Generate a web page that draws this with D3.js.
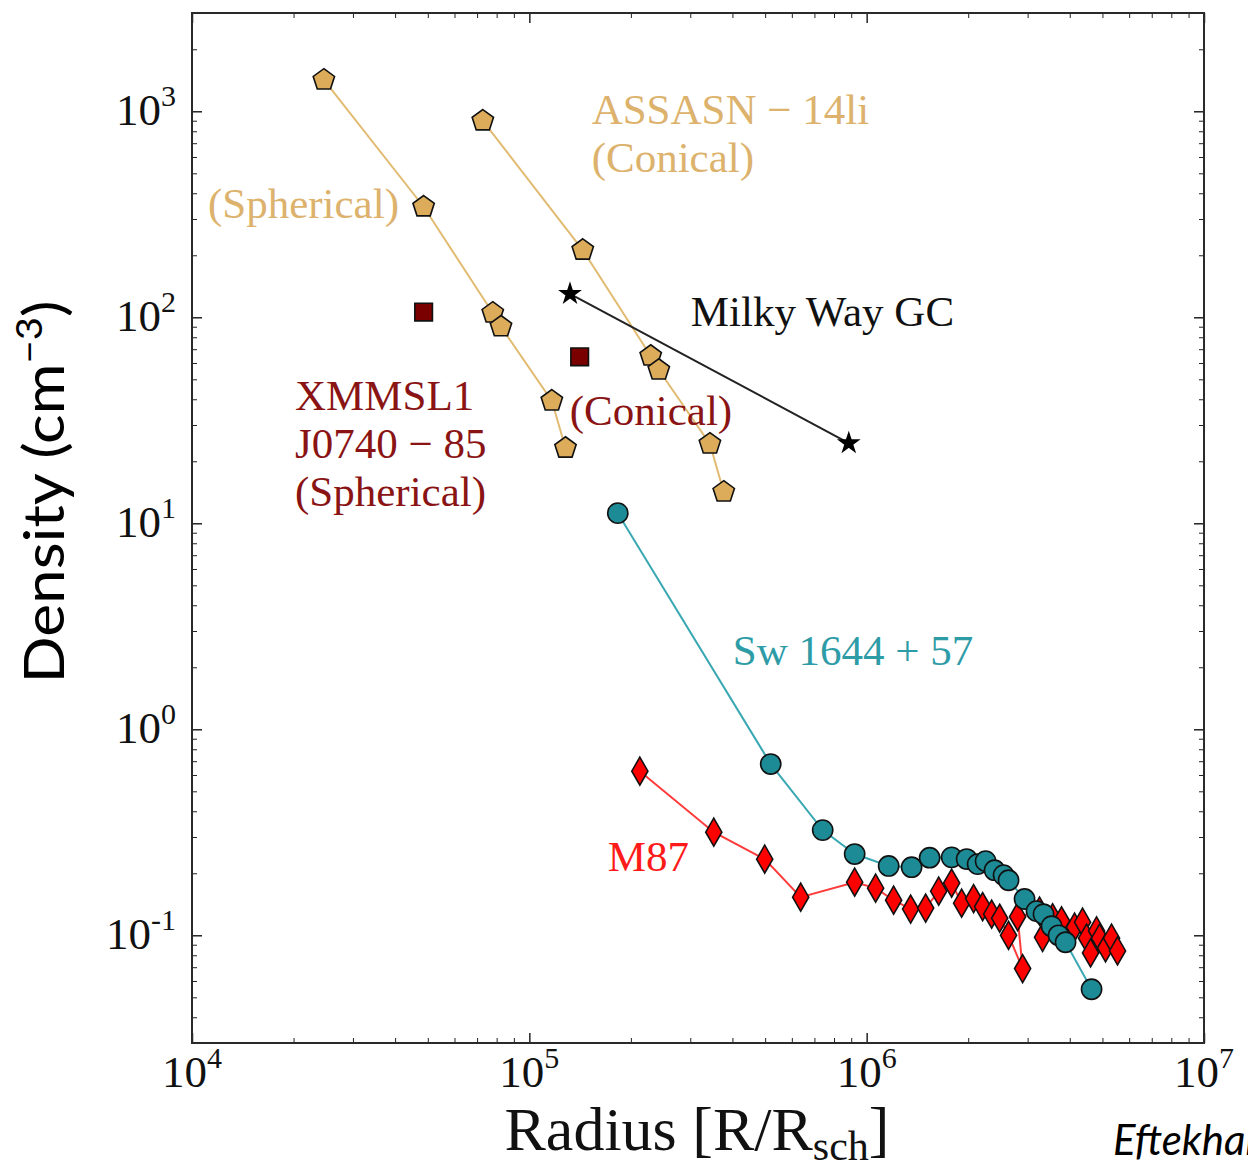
<!DOCTYPE html>
<html>
<head>
<meta charset="utf-8">
<script src="https://cdn.jsdelivr.net/npm/d3@7"></script>
<style>
  html, body { margin: 0; padding: 0; background: #fff; }
  svg { display: block; }
</style>
</head>
<body>
<svg id="chart" width="1248" height="1168"></svg>
<script>
// ---- data: radius in Schwarzschild radii, density in cm^-3 ----
const assasnSphR   = [24600, 48600, 77900, 82400, 116600, 128000];
const assasnSphN   = [1420, 344, 105, 90, 39.3, 23.2];

const assasnConR   = [72800, 144000, 229000, 242000, 343000, 377000];
const assasnConN   = [899, 212, 64.9, 55.5, 24.3, 14.2];

const xmmR         = [48600, 141000];
const xmmN         = [106, 64.3];

const milkyWayR    = [132000, 885000];
const milkyWayN    = [130, 24.5];

const swR = [182900, 519500, 740700, 921300, 1162000, 1359000, 1537000, 1786000,
             1979000, 2133000, 2252000, 2394000, 2546000, 2634000, 2938000, 3188000,
             3344000, 3533000, 3706000, 3887000, 4642000];
const swN = [11.2, 0.678, 0.324, 0.248, 0.217, 0.214, 0.238, 0.239,
             0.2345, 0.2215, 0.229, 0.207, 0.196, 0.185, 0.150, 0.131,
             0.1266, 0.1107, 0.100, 0.0925, 0.0547];

const m87R = [212600, 352200, 498600, 637400, 921300, 1063000, 1202000, 1350000,
              1496000, 1635000, 1786000, 1912000, 2075000, 2207000, 2347000, 2479000,
              2634000, 2899000, 2802000, 3255000, 3322000, 3557000, 3782000, 4133000,
              4365000, 4486000, 4610000, 4803000, 4902000, 5107000, 5320000, 5541000];
const m87N = [0.626, 0.3167, 0.2342, 0.1531, 0.181, 0.1694, 0.148, 0.134,
              0.1355, 0.1637, 0.1793, 0.1432, 0.1508, 0.1378, 0.1266, 0.121,
              0.100, 0.0689, 0.1231, 0.131, 0.0977, 0.1217, 0.1175, 0.1095,
              0.1158, 0.0968, 0.0821, 0.105, 0.0968, 0.0869, 0.0968, 0.084];

// axis ranges and labelled decades
const xDomain = [1e4, 1e7];
const yDomain = [0.03, 3000];
const xDecades = [4, 5, 6, 7];
const yDecades = [-1, 0, 1, 2, 3];

// text annotations, anchored in data coordinates (left edge, first baseline)
const annotLines = [
  ["ASSASN \u2212 14li", "(Conical)"],
  ["(Spherical)"],
  ["Milky Way GC"],
  ["XMMSL1", "J0740 \u2212 85", "(Spherical)"],
  ["(Conical)"],
  ["Sw 1644 + 57"],
  ["M87"]
];
const annotR = [153000, 11150, 301000, 20200, 131800, 401000, 170900];
const annotN = [870, 304, 90.8, 35.5, 30.0, 2.05, 0.2048];
const annotColor = ["#dcb26c", "#dcb26c", "#111111", "#8a1414", "#8a1414", "#2e9ca7", "#ff1a1a"];

// ---- layout ----
const svg = d3.select("#chart");
const L = 192, R = 1204, T = 13, B = 1043;

const x = d3.scaleLog().domain(xDomain).range([L, R]);
const y = d3.scaleLog().domain(yDomain).range([B, T]);

const serif = "'Liberation Serif', 'DejaVu Serif', serif";
const sans = "Lato, 'Open Sans', sans-serif";

// ---- ticks on all four sides, pointing inward ----
const isPow10 = v => Math.abs(Math.log10(v) - Math.round(Math.log10(v))) < 1e-9;
const xMinor = x.ticks().filter(v => !isPow10(v));
const yMinor = y.ticks().filter(v => !isPow10(v));
const xMajor = xDecades.map(d => Math.pow(10, d));
const yMajor = yDecades.map(d => Math.pow(10, d));

function tickGroup(axisFn, scale, values, size, transform, width) {
  const g = svg.append("g").attr("transform", transform)
    .call(axisFn(scale).tickValues(values).tickSize(-size).tickFormat(""));
  g.select(".domain").remove();
  g.selectAll(".tick line").attr("stroke", "#222").attr("stroke-width", width);
  return g;
}
tickGroup(d3.axisBottom, x, xMajor, 10, `translate(0,${B})`, 1.5);
tickGroup(d3.axisBottom, x, xMinor, 5, `translate(0,${B})`, 1);
tickGroup(d3.axisTop, x, xMajor, 10, `translate(0,${T})`, 1.5);
tickGroup(d3.axisTop, x, xMinor, 5, `translate(0,${T})`, 1);
tickGroup(d3.axisLeft, y, yMajor, 10, `translate(${L},0)`, 1.5);
tickGroup(d3.axisLeft, y, yMinor, 5, `translate(${L},0)`, 1);
tickGroup(d3.axisRight, y, yMajor, 10, `translate(${R},0)`, 1.5);
tickGroup(d3.axisRight, y, yMinor, 5, `translate(${R},0)`, 1);

// frame
svg.append("rect")
  .attr("x", L).attr("y", T).attr("width", R - L).attr("height", B - T)
  .attr("fill", "none").attr("stroke", "#2a2a2a").attr("stroke-width", 2);

// ---- tick labels 10^n ----
function powLabel(sel, exp) {
  sel.append("tspan").text("10");
  sel.append("tspan").attr("font-size", 30).attr("dy", -19).text(String(exp));
}
xDecades.forEach(d => {
  const t = svg.append("text")
    .attr("x", x(Math.pow(10, d))).attr("y", 1087)
    .attr("text-anchor", "middle")
    .attr("font-family", serif).attr("font-size", 45).attr("fill", "#111");
  powLabel(t, d);
});
yDecades.forEach(d => {
  const t = svg.append("text")
    .attr("x", 176).attr("y", y(Math.pow(10, d)) + 14)
    .attr("text-anchor", "end")
    .attr("font-family", serif).attr("font-size", 45).attr("fill", "#111");
  powLabel(t, d === -1 ? "-1" : d);
});

// ---- axis titles ----
const xt = svg.append("text")
  .attr("x", 697).attr("y", 1150)
  .attr("text-anchor", "middle")
  .attr("font-family", serif).attr("font-size", 62).attr("fill", "#111");
xt.append("tspan").text("Radius [R/R");
xt.append("tspan").attr("font-size", 42).attr("dy", 10).text("sch");
xt.append("tspan").attr("dy", -10).text("]");

const yt = svg.append("text")
  .attr("transform", "translate(64,492) rotate(-90)")
  .attr("text-anchor", "middle")
  .attr("font-family", sans).attr("font-size", 56).attr("fill", "#000")
  .attr("textLength", 383).attr("lengthAdjust", "spacingAndGlyphs");
yt.append("tspan").text("Density (cm");
yt.append("tspan").attr("font-size", 36).attr("dy", -22).text("\u22123");
yt.append("tspan").attr("dy", 22).text(")");

svg.append("text")
  .attr("x", 1113).attr("y", 1155)
  .attr("font-family", sans).attr("font-style", "italic")
  .attr("font-size", 42).attr("fill", "#000")
  .text("Eftekhari et al. 2018");

// ---- series ----
const pentagon = {
  draw(ctx, size) {
    const r = Math.sqrt(size / 2.3776);
    for (let i = 0; i < 5; i++) {
      const a = -Math.PI / 2 + i * 2 * Math.PI / 5;
      const px = r * Math.cos(a), py = r * Math.sin(a);
      if (i === 0) ctx.moveTo(px, py); else ctx.lineTo(px, py);
    }
    ctx.closePath();
  }
};

const line = d3.line().x(d => x(d[0])).y(d => y(d[1]));

function series(rs, ns, opts) {
  const pts = rs.map((r, i) => [r, ns[i]]);
  const g = svg.append("g");
  if (opts.line) {
    g.append("path").attr("d", line(pts))
      .attr("fill", "none").attr("stroke", opts.line).attr("stroke-width", 2);
  }
  g.selectAll("path.mk").data(pts).join("path")
    .attr("class", "mk")
    .attr("transform", d => `translate(${x(d[0])},${y(d[1])})`)
    .attr("d", d3.symbol().type(opts.shape).size(opts.size))
    .attr("fill", opts.fill)
    .attr("stroke", opts.stroke || "#111")
    .attr("stroke-width", 1.6)
    .attr("stroke-linejoin", "miter");
}

series(assasnSphR, assasnSphN, { shape: pentagon, size: 300, fill: "#dcac5a", line: "#e2bb72" });
series(assasnConR, assasnConN, { shape: pentagon, size: 300, fill: "#dcac5a", line: "#e2bb72" });
series(xmmR, xmmN, { shape: d3.symbolSquare, size: 310, fill: "#7a0000" });
series(milkyWayR, milkyWayN, { shape: d3.symbolStar, size: 110, fill: "#000", stroke: "#000", line: "#222" });
series(m87R, m87N, { shape: d3.symbolDiamond, size: 226, fill: "#ff0000", line: "#ff3b3b" });
series(swR, swN, { shape: d3.symbolCircle, size: 320, fill: "#1d8b96", line: "#3aa8b3" });

// ---- annotations ----
annotLines.forEach((lines, i) => {
  const t = svg.append("text")
    .attr("x", x(annotR[i])).attr("y", y(annotN[i]))
    .attr("font-family", serif).attr("font-size", 43).attr("fill", annotColor[i]);
  lines.forEach((s, j) => {
    t.append("tspan").attr("x", x(annotR[i])).attr("dy", j === 0 ? 0 : 48).text(s);
  });
});
</script>
</body>
</html>
